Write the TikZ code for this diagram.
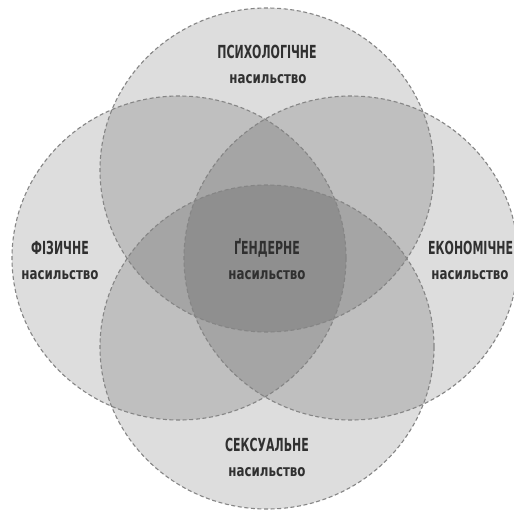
\documentclass[tikz,border=0pt]{standalone}
\usepackage{fontspec}
\setmainfont{DejaVu Sans}
\newfontfamily\capsfont[FakeStretch=0.61]{DejaVu Sans}
\newfontfamily\lowfont[FakeStretch=0.74]{DejaVu Sans}
\usetikzlibrary{shapes.geometric}
\definecolor{txt}{HTML}{303030}
\definecolor{edge}{HTML}{858585}
\begin{document}
\begin{tikzpicture}[x=1pt,y=-1pt,
  circ/.style={ellipse, minimum width=334pt, minimum height=324pt, inner sep=0pt, fill=black, fill opacity=0.135},
  border/.style={draw=edge, line width=1.1pt, dash pattern=on 4pt off 2.6pt},
  titletext/.style={font=\capsfont\bfseries\fontsize{18}{18}\selectfont, text=txt, inner sep=0pt},
  subtext/.style={font=\lowfont\bfseries\fontsize{16}{16}\selectfont, text=txt, inner sep=0pt}]
\useasboundingbox (0,0) rectangle (514,512);
\clip (0,0) rectangle (514,512);
\fill[white] (0,0) rectangle (514,512);
% circles (fills)
\node[circ] (ctop) at (267,170) {};
\node[circ] (cleft) at (179,258) {};
\node[circ] (cright) at (351,258) {};
\node[circ] (cbot) at (267,347) {};
% borders
\draw[border] (ctop.center) ellipse [x radius=167, y radius=162];
\draw[border] (cleft.center) ellipse [x radius=167, y radius=162];
\draw[border] (cright.center) ellipse [x radius=167, y radius=162];
\draw[border] (cbot.center) ellipse [x radius=167, y radius=162];
% labels
\node[titletext] (ptitle) at (267,52) {ПСИХОЛОГІЧНЕ};
\node[subtext] (psub) at (268,79) {насильство};
\node[titletext] (ftitle) at (60,248) {ФІЗИЧНЕ};
\node[subtext] (fsub) at (60,275) {насильство};
\node[titletext] (gtitle) at (267,248) {ҐЕНДЕРНЕ};
\node[subtext] (gsub) at (267,275) {насильство};
\node[titletext, anchor=west] (etitle) at (428,248) {ЕКОНОМІЧНЕ};
\node[subtext] (esub) at (470,275) {насильство};
\node[titletext] (stitle) at (267,445) {СЕКСУАЛЬНЕ};
\node[subtext] (ssub) at (267,472) {насильство};
\end{tikzpicture}
\end{document}
